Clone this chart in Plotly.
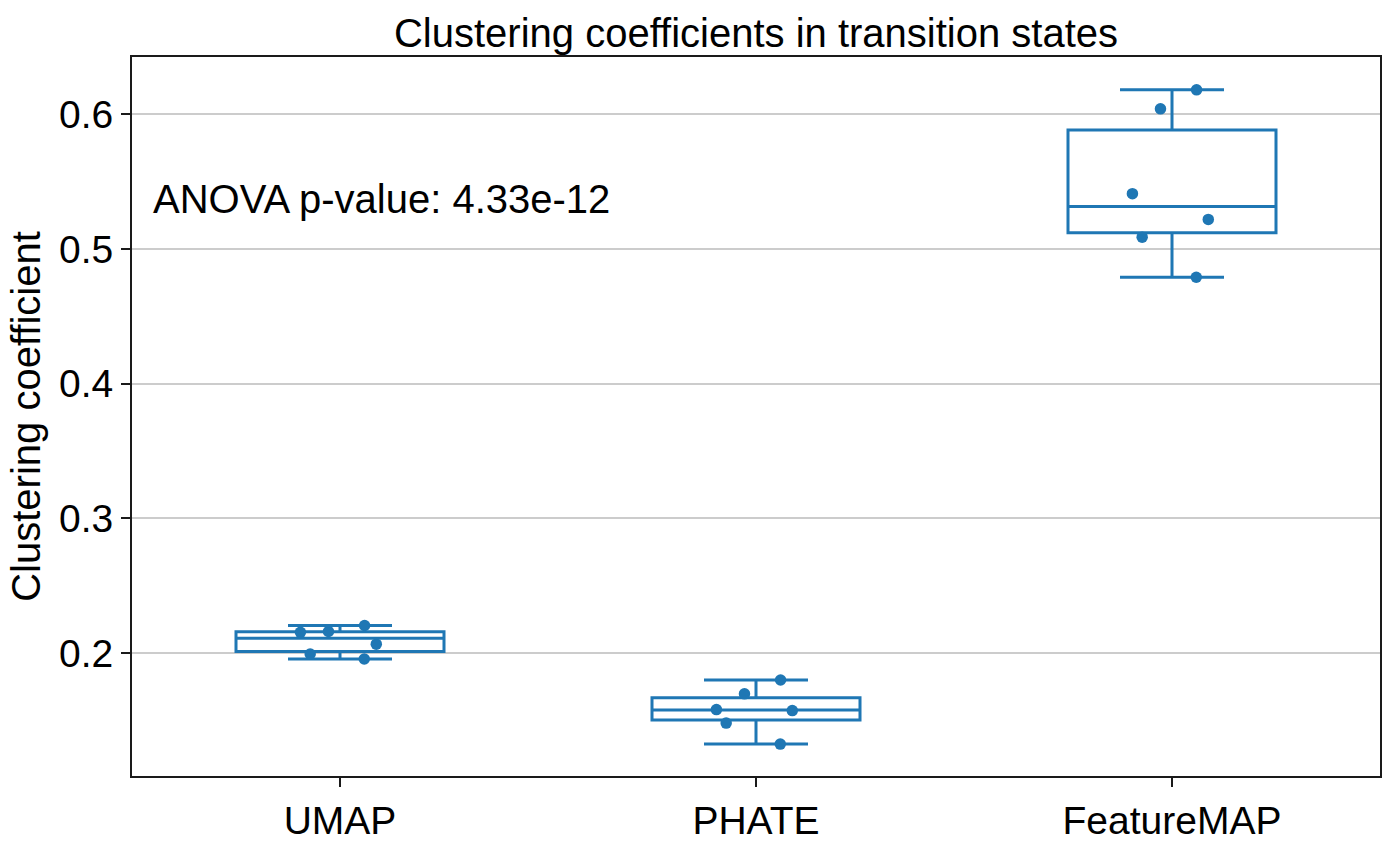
import numpy as np
import plotly.graph_objects as go

categories = ["UMAP", "PHATE", "FeatureMAP"]
umap_vals = [0.2205, 0.2154, 0.2160, 0.2066, 0.1993, 0.1956]
phate_vals = [0.1800, 0.1697, 0.1573, 0.1580, 0.1480, 0.1324]
featuremap_vals = [0.6183, 0.6042, 0.5412, 0.5221, 0.5089, 0.4791]
series = [umap_vals, phate_vals, featuremap_vals]
yticks = [0.2, 0.3, 0.4, 0.5, 0.6]
title_text = "Clustering coefficients in transition states"
ylabel = "Clustering coefficient"
anova_text = "ANOVA p-value: 4.33e-12"

BLUE = "#1f77b4"
FONT = "Liberation Sans, Arial, sans-serif"


def box_stats(vals):
    a = np.asarray(vals, dtype=float)
    q1, med, q3 = np.percentile(a, [25, 50, 75])
    iqr = q3 - q1
    lo = a[a >= q1 - 1.5 * iqr].min()
    hi = a[a <= q3 + 1.5 * iqr].max()
    return q1, med, q3, lo, hi


fig = go.Figure()
for cat, vals in zip(categories, series):
    q1, med, q3, lo, hi = box_stats(vals)
    # box with numpy-style (linear) quartiles, like seaborn
    fig.add_trace(go.Box(
        x=[cat], q1=[q1], median=[med], q3=[q3],
        lowerfence=[lo], upperfence=[hi],
        name=cat, offsetgroup="g",
        boxpoints=False,
        fillcolor="rgba(0,0,0,0)",
        line=dict(color=BLUE, width=3),
        width=0.5, whiskerwidth=0.5,
        showlegend=False, hoverinfo="skip",
    ))
    # jittered sample points
    fig.add_trace(go.Box(
        x=[cat] * len(vals), y=vals, name=cat, offsetgroup="g",
        boxpoints="all", jitter=0.45, pointpos=0,
        fillcolor="rgba(0,0,0,0)",
        line=dict(color="rgba(0,0,0,0)", width=0),
        marker=dict(color=BLUE, size=11.5),
        width=0.5,
        showlegend=False, hoverinfo="y",
    ))

fig.update_layout(
    width=1396, height=854,
    margin=dict(l=132, r=16, t=57, b=68),
    paper_bgcolor="white", plot_bgcolor="white",
    boxmode="overlay",
    font=dict(family=FONT, color="black", size=39),
    title=dict(text=title_text, x=0.5, xref="paper", xanchor="center",
               y=1, yref="paper", yanchor="bottom", pad=dict(b=10),
               font=dict(size=40, family=FONT, color="black")),
    xaxis=dict(type="category", categoryorder="array", categoryarray=categories,
               range=[-0.5, 2.5], showgrid=False, zeroline=False,
               showline=True, linecolor="#1a1a1a", linewidth=2, mirror=True,
               ticks="outside", ticklen=9, tickwidth=2, tickcolor="#1a1a1a",
               tickfont=dict(size=39)),
    yaxis=dict(range=[0.1087, 0.6427], tickvals=yticks, tickformat=".1f",
               showgrid=True, gridcolor="#cccccc", gridwidth=1.5, zeroline=False,
               showline=True, linecolor="#1a1a1a", linewidth=2, mirror=True,
               ticks="outside", ticklen=9, tickwidth=2, tickcolor="#1a1a1a",
               tickfont=dict(size=39),
               title=dict(text=ylabel, font=dict(size=40), standoff=6)),
    annotations=[dict(text=anova_text, xref="paper", yref="paper",
                      x=0.015, y=0.803, xanchor="left", yanchor="middle",
                      showarrow=False, font=dict(size=40, family=FONT, color="black"))],
)

fig.write_html("out.html")
